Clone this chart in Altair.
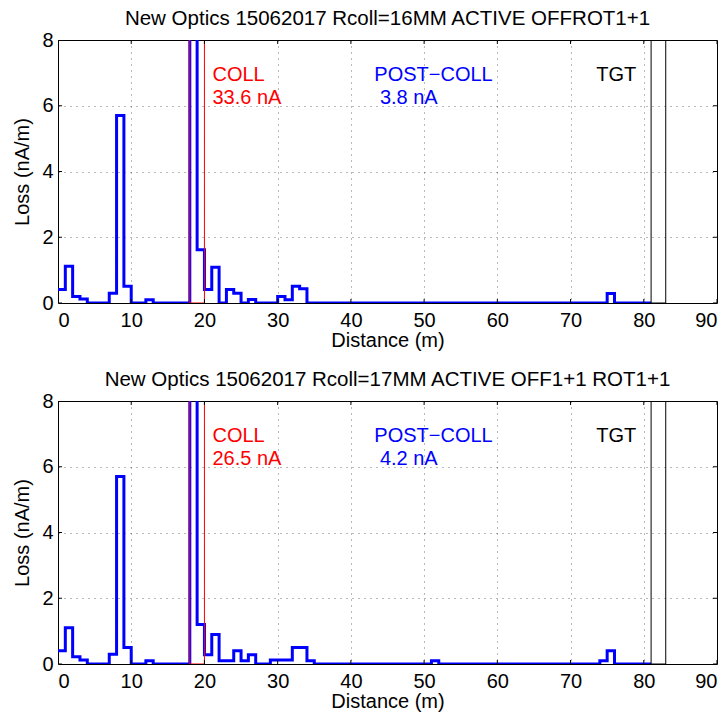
import altair as alt
import pandas as pd

FONT = "Liberation Sans"

# bin edges (m) of the 1 m loss histogram, 0..81
bin_edges = list(range(0, 82))

# loss per 1 m bin (nA/m), bins 0-1 ... 80-81
loss_top = [
    0.41, 1.12, 0.20, 0.12, 0, 0, 0, 0.30, 5.70, 0.51,
    0, 0, 0.10, 0, 0, 0, 0, 0, 33.6, 1.62,
    0.41, 1.09, 0, 0.41, 0.30, 0, 0.11, 0, 0, 0,
    0.20, 0.10, 0.51, 0.43, 0, 0, 0, 0, 0, 0,
    0, 0, 0, 0, 0, 0, 0, 0, 0, 0,
    0, 0, 0, 0, 0, 0, 0, 0, 0, 0,
    0, 0, 0, 0, 0, 0, 0, 0, 0, 0,
    0, 0, 0, 0, 0, 0.29, 0, 0, 0, 0,
    0,
]
loss_bottom = [
    0.40, 1.10, 0.22, 0.12, 0, 0, 0, 0.30, 5.70, 0.50,
    0, 0, 0.10, 0, 0, 0, 0, 0, 26.5, 1.20,
    0.28, 0.90, 0.10, 0.10, 0.40, 0.10, 0.28, 0, 0, 0.12,
    0.12, 0.12, 0.50, 0.50, 0.10, 0, 0, 0, 0, 0,
    0, 0, 0, 0, 0, 0, 0, 0, 0, 0,
    0, 0.10, 0, 0, 0, 0, 0, 0, 0, 0,
    0, 0, 0, 0, 0, 0, 0, 0, 0, 0,
    0, 0, 0, 0, 0.10, 0.40, 0, 0, 0, 0,
    0,
]

titles = [
    "New Optics 15062017 Rcoll=16MM ACTIVE OFFROT1+1",
    "New Optics 15062017 Rcoll=17MM ACTIVE OFF1+1 ROT1+1",
]
coll_values = ["33.6 nA", "26.5 nA"]
post_values = ["3.8 nA", "4.2 nA"]

coll_region = [18, 20]
tgt_region = [81, 83]

x_ticks = [0, 10, 20, 30, 40, 50, 60, 70, 80, 90]
y_ticks = [0, 2, 4, 6, 8]
x_domain = [0, 90]
y_domain = [0, 8]

# annotation anchors (data units)
label_x = [21.1, 43.2, 43.96, 73.5]
label_y_top = 6.75
label_y_low = 6.04

W, H = 659, 263


def panel(title, loss, coll_val, post_val):
    xs = alt.Scale(domain=x_domain, nice=False, zero=False)
    ys = alt.Scale(domain=y_domain, nice=False, zero=False)
    xax = alt.Axis(values=x_ticks, title="Distance (m)", format="d")
    yax = alt.Axis(values=y_ticks, title="Loss (nA/m)", format="d")

    df = pd.DataFrame({"x": bin_edges, "y": loss + [loss[-1]]})
    line = alt.Chart(df).mark_line(
        interpolate="step-after", color="#0000FF", strokeWidth=3, clip=True
    ).encode(
        x=alt.X("x:Q", scale=xs, axis=xax),
        y=alt.Y("y:Q", scale=ys, axis=yax),
    )

    regions = pd.DataFrame({
        "x": [coll_region[0], tgt_region[0]],
        "x2": [coll_region[1], tgt_region[1]],
        "c": ["#FF0000", "#000000"],
    })
    rects = alt.Chart(regions).mark_rect(
        fillOpacity=0, strokeWidth=1, clip=True
    ).encode(
        x=alt.X("x:Q", scale=xs),
        x2="x2:Q",
        y=alt.datum(0),
        y2=alt.datum(12),
        stroke=alt.Color("c:N", scale=None),
    )

    texts = pd.DataFrame({
        "t": ["COLL", coll_val, "POST\u2212COLL", post_val, "TGT"],
        "x": [label_x[0], label_x[0], label_x[1], label_x[2], label_x[3]],
        "y": [label_y_top, label_y_low, label_y_top, label_y_low, label_y_top],
        "c": ["#FF0000", "#FF0000", "#0000FF", "#0000FF", "#000000"],
    })
    txt = alt.Chart(texts).mark_text(
        align="left", baseline="alphabetic", fontSize=20, font=FONT
    ).encode(
        x=alt.X("x:Q", scale=xs),
        y=alt.Y("y:Q", scale=ys),
        text="t:N",
        color=alt.Color("c:N", scale=None),
    )

    xt = pd.DataFrame({"t": x_ticks})
    yt = pd.DataFrame({"t": y_ticks})
    tick_style = dict(size=8, thickness=1, color="#000000", clip=True, opacity=1)
    tb = alt.Chart(xt).mark_tick(orient="vertical", **tick_style).encode(
        x=alt.X("t:Q", scale=xs), y=alt.datum(y_domain[0]))
    tt = alt.Chart(xt).mark_tick(orient="vertical", **tick_style).encode(
        x=alt.X("t:Q", scale=xs), y=alt.datum(y_domain[1]))
    tl = alt.Chart(yt).mark_tick(orient="horizontal", **tick_style).encode(
        y=alt.Y("t:Q", scale=ys), x=alt.datum(x_domain[0]))
    tr = alt.Chart(yt).mark_tick(orient="horizontal", **tick_style).encode(
        y=alt.Y("t:Q", scale=ys), x=alt.datum(x_domain[1]))

    return alt.layer(line, rects, txt, tb, tt, tl, tr).properties(
        width=W, height=H,
        title=alt.TitleParams(
            text=title, fontSize=20.5, font=FONT, fontWeight="normal",
            anchor="middle", frame="group", baseline="alphabetic",
            offset=-15, color="#000000",
        ),
    )


chart = alt.vconcat(
    panel(titles[0], loss_top, coll_values[0], post_values[0]),
    panel(titles[1], loss_bottom, coll_values[1], post_values[1]),
    spacing=18,
).properties(
    padding={"left": 4, "top": 0, "right": 0, "bottom": 0},
    background="white",
).configure_view(
    stroke="#000000", strokeWidth=1,
).configure_axis(
    labelFont=FONT, titleFont=FONT, labelFontSize=20, titleFontSize=20,
    labelColor="#000000", titleColor="#000000", titleFontWeight="normal",
    ticks=False, tickSize=0, domain=False,
    grid=True, gridColor="#000000", gridOpacity=0.55, gridDash=[1, 5], gridWidth=1,
).configure_axisX(
    labelPadding=7, titlePadding=0,
).configure_axisY(
    labelPadding=5, titlePadding=9,
)

chart.save("out.html", embed_options={"renderer": "svg", "actions": False})
